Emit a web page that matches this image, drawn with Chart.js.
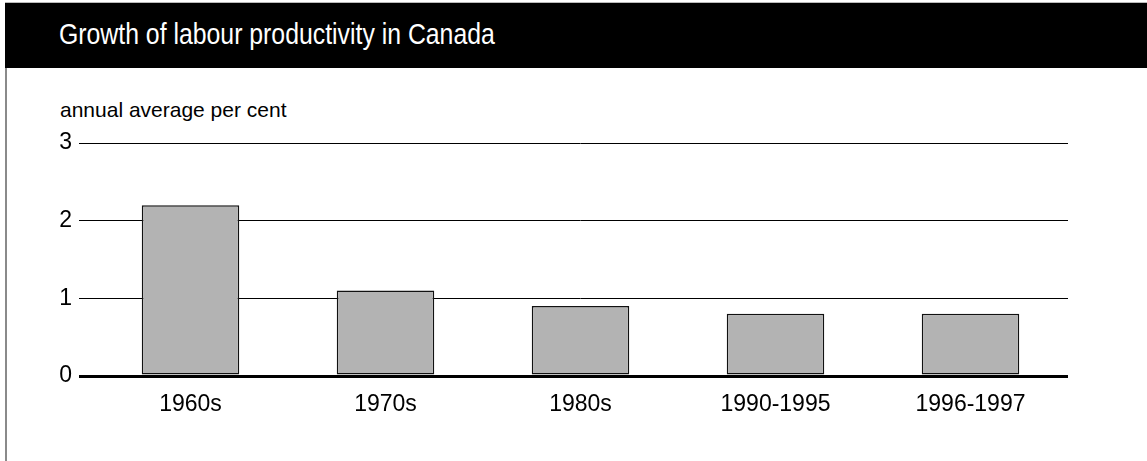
<!DOCTYPE html>
<html>

<head>
    <title>Growth of labour productivity in Canada</title>
    <script src="https://cdn.jsdelivr.net/npm/chart.js"></script>
    <style type="text/css">
        body {
            margin: 0;
            background: #fff;
            font-family: "Liberation Sans", Arial, sans-serif;
        }

        #page {
            position: relative;
            width: 1147px;
            height: 461px;
            overflow: hidden;
        }

        #header {
            position: absolute;
            left: 5px;
            top: 2px;
            width: 1142px;
            height: 66px;
            background: #000;
            border-top: 1px solid #bbb;
            box-sizing: border-box;
        }

        /* no narrow face installed, so squeeze Liberation Sans */
        #header h1 {
            position: absolute;
            left: 54px;
            top: 14px;
            margin: 0;
            color: #fff;
            font-family: "Liberation Sans", Arial, sans-serif;
            font-weight: normal;
            font-size: 30px;
            line-height: normal;
            white-space: nowrap;
            transform: scaleX(0.827);
            transform-origin: 0 0;
        }

        #leftRule {
            position: absolute;
            left: 5px;
            top: 68px;
            width: 2px;
            height: 393px;
            background: #8a8a8a;
        }

        #unit {
            position: absolute;
            left: 60px;
            top: 98px;
            font-size: 21px;
            line-height: normal;
            color: #000;
            white-space: nowrap;
        }

        .chart-container {
            position: absolute;
            left: 0;
            top: 68px;
            width: 1147px;
            height: 393px;
        }
    </style>
</head>

<body>
    <div id="page">
        <div id="header">
            <h1>Growth of labour productivity in Canada</h1>
        </div>
        <div id="leftRule"></div>
        <div id="unit">annual average per cent</div>
        <div class="chart-container">
            <canvas id="myChart" width="1147" height="393"></canvas>
        </div>
    </div>

    <script>
        // values
        const periods = ['1960s', '1970s', '1980s', '1990-1995', '1996-1997'];
        const growth = [2.2, 1.1, 0.9, 0.8, 0.8];
        const yTicks = [0, 1, 2, 3];

        var ctx = document.getElementById('myChart').getContext('2d');
        var myChart = new Chart(ctx, {
            type: 'bar',
            data: {
                labels: periods,
                datasets: [{
                    data: growth,
                    backgroundColor: '#b3b3b3',
                    borderColor: '#111',
                    borderWidth: 1.5,
                    borderSkipped: false,
                    barPercentage: 0.5,
                    categoryPercentage: 1.0
                }]
            },
            options: {
                responsive: false,
                animation: false,
                layout: {
                    padding: { left: 0, right: 79, top: 75, bottom: 0 }
                },
                plugins: {
                    legend: { display: false },
                    tooltip: { enabled: false }
                },
                scales: {
                    x: {
                        grid: { display: false, drawTicks: false },
                        border: { display: false },
                        ticks: {
                            color: '#000',
                            padding: 15,
                            maxRotation: 0,
                            font: { family: '"Liberation Sans", Arial, sans-serif', size: 23 }
                        },
                        afterFit: function (s) { s.height = 85; }
                    },
                    y: {
                        min: yTicks[0],
                        max: yTicks[yTicks.length - 1],
                        afterBuildTicks: function (s) {
                            s.ticks = yTicks.map(v => ({ value: v }));
                        },
                        grid: {
                            color: '#000',
                            lineWidth: c => (c.tick && c.tick.value === 0 ? 3 : 1),
                            tickLength: 14
                        },
                        border: { display: false },
                        ticks: {
                            color: '#000',
                            padding: 7,
                            font: { family: '"Liberation Sans", Arial, sans-serif', size: 23 }
                        },
                        afterFit: function (s) { s.width = 93; }
                    }
                }
            }
        });
    </script>
</body>

</html>
